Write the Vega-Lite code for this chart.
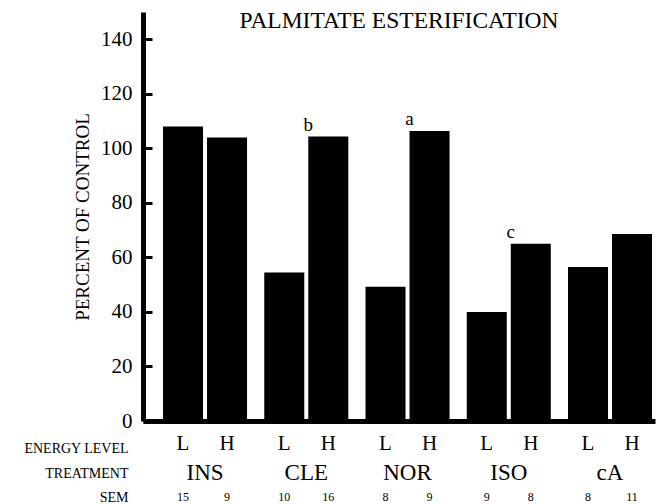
{
  "$schema": "https://vega.github.io/schema/vega-lite/v6.json",
  "width": 512,
  "height": 409,
  "autosize": "none",
  "padding": {"left": 143, "top": 12, "right": 3, "bottom": 83},
  "background": "white",
  "config": {
    "view": {"stroke": null},
    "font": "Liberation Serif",
    "text": {"font": "Liberation Serif", "color": "black"}
  },
  "title": {
    "text": "PALMITATE ESTERIFICATION",
    "font": "Liberation Serif",
    "fontSize": 23.5,
    "fontWeight": "normal",
    "color": "black",
    "anchor": "middle",
    "baseline": "middle",
    "offset": -10,
    "dy": 22
  },
  "data": {
    "values": [
      {"treatment": "INS", "level": "L", "value": 108, "sem": "15", "sig": ""},
      {"treatment": "INS", "level": "H", "value": 104, "sem": "9", "sig": ""},
      {"treatment": "CLE", "level": "L", "value": 54.5, "sem": "10", "sig": ""},
      {"treatment": "CLE", "level": "H", "value": 104.3, "sem": "16", "sig": "b"},
      {"treatment": "NOR", "level": "L", "value": 49.2, "sem": "8", "sig": ""},
      {"treatment": "NOR", "level": "H", "value": 106.4, "sem": "9", "sig": "a"},
      {"treatment": "ISO", "level": "L", "value": 40, "sem": "9", "sig": ""},
      {"treatment": "ISO", "level": "H", "value": 65, "sem": "8", "sig": "c"},
      {"treatment": "cA", "level": "L", "value": 56.5, "sem": "8", "sig": ""},
      {"treatment": "cA", "level": "H", "value": 68.6, "sem": "11", "sig": ""}
    ]
  },
  "encoding": {
    "x": {
      "field": "treatment",
      "type": "nominal",
      "sort": ["INS", "CLE", "NOR", "ISO", "cA"],
      "scale": {"paddingInner": 0.17, "paddingOuter": 0.1135, "align": 0.871},
      "axis": {
        "title": ["ENERGY LEVEL", "TREATMENT", "SEM"],
        "titleFont": "Liberation Serif",
        "titleFontSize": 14,
        "titleFontWeight": "normal",
        "titleColor": "black",
        "titleLineHeight": 24.5,
        "titleAlign": "right",
        "titleBaseline": "top",
        "titleAnchor": "start",
        "titleAngle": 0,
        "titleX": -15,
        "titleY": 20.5,
        "ticks": false,
        "grid": false,
        "domainWidth": 5,
        "domainColor": "black",
        "labelFont": "Liberation Serif",
        "labelFontSize": 23,
        "labelColor": "black",
        "labelAngle": 0,
        "labelBaseline": "middle",
        "labelPadding": 51
      }
    },
    "xOffset": {
      "field": "level",
      "sort": ["L", "H"],
      "scale": {"paddingInner": 0.091, "paddingOuter": 0}
    }
  },
  "layer": [
    {
      "mark": {"type": "bar", "color": "black"},
      "encoding": {
        "y": {
          "field": "value",
          "type": "quantitative",
          "scale": {"domain": [0, 150], "nice": false},
          "axis": {
            "title": "PERCENT OF CONTROL",
            "values": [0, 20, 40, 60, 80, 100, 120, 140],
            "grid": true,
            "gridColor": "black",
            "gridWidth": 3,
            "gridDash": [9, 2000],
            "gridOpacity": 1,
            "domainWidth": 5,
            "domainColor": "black",
            "ticks": false,
            "labelPadding": 11,
            "labelFontSize": 21,
            "labelColor": "black",
            "labelFont": "Liberation Serif",
            "labelOverlap": false,
            "labelBound": false,
            "labelFlush": false,
            "titleFont": "Liberation Serif",
            "titleFontSize": 19,
            "titleFontWeight": "normal",
            "titleColor": "black",
            "titleX": -61,
            "titleY": 204.5,
            "titleAngle": 270,
            "titleAlign": "center",
            "titleBaseline": "middle"
          }
        }
      }
    },
    {
      "mark": {"type": "text", "fontSize": 21, "baseline": "middle"},
      "encoding": {
        "y": {"datum": -8.4, "type": "quantitative"},
        "text": {"field": "level"}
      }
    },
    {
      "mark": {"type": "text", "fontSize": 12, "baseline": "middle"},
      "encoding": {
        "y": {"datum": -27.9, "type": "quantitative"},
        "text": {"field": "sem"}
      }
    },
    {
      "transform": [{"filter": "datum.sig != ''"}],
      "mark": {"type": "text", "fontSize": 19, "baseline": "alphabetic", "dx": -20, "dy": -6},
      "encoding": {
        "y": {"field": "value", "type": "quantitative"},
        "text": {"field": "sig"}
      }
    }
  ]
}
